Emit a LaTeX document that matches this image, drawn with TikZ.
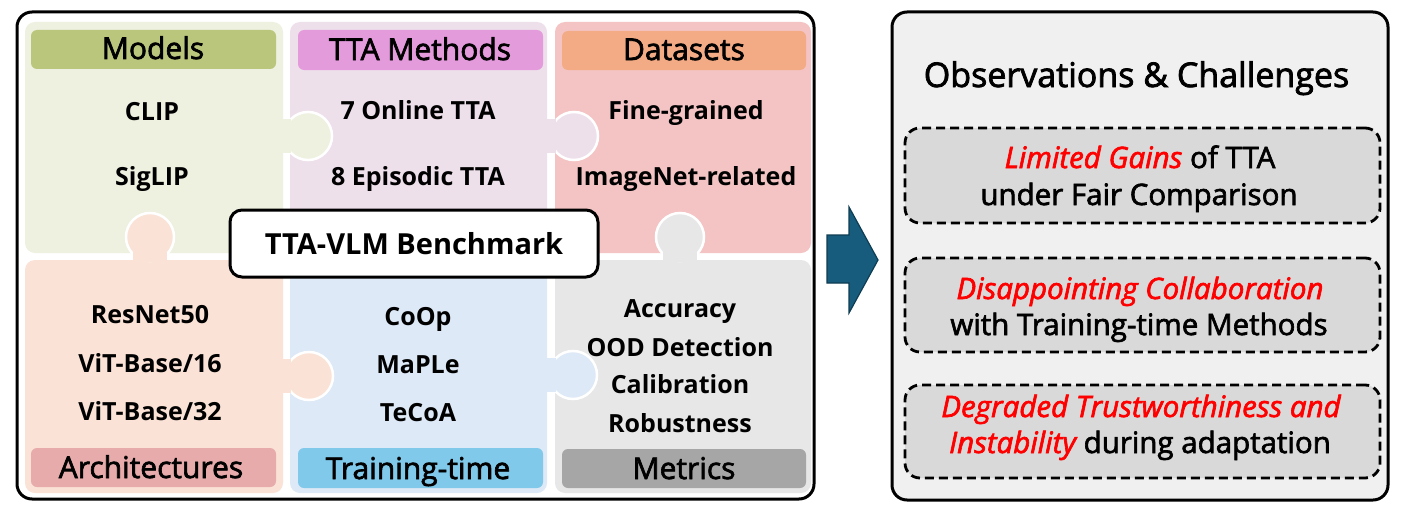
\documentclass[tikz,border=0pt]{standalone}
\usepackage{fontspec}
\setmainfont{Open Sans}
\newfontfamily\medfont[FakeBold=2.2]{Open Sans}
\definecolor{pModels}{HTML}{EEF0E0}
\definecolor{bModels}{HTML}{BAC67C}
\definecolor{pMeth}{HTML}{EEE0EB}
\definecolor{bMeth}{HTML}{E49BDC}
\definecolor{pData}{HTML}{F4C4C4}
\definecolor{bData}{HTML}{F2AB84}
\definecolor{pArch}{HTML}{FAE2D6}
\definecolor{bArch}{HTML}{E6ABAA}
\definecolor{pTrain}{HTML}{DDE9F6}
\definecolor{bTrain}{HTML}{80C9EA}
\definecolor{pMetr}{HTML}{E7E7E7}
\definecolor{bMetr}{HTML}{A6A6A6}
\definecolor{panel}{HTML}{F0F0F0}
\definecolor{obsbox}{HTML}{D9D9D9}
\definecolor{arrowfill}{HTML}{175C7C}
\definecolor{arrowline}{HTML}{0E3C52}
\definecolor{hl}{HTML}{FF0000}
\tikzset{
  piece/.style={rounded corners=10pt},
  knob/.style={draw=white, line width=2.5pt},
  bar/.style={rounded corners=6pt},
  title/.style={font=\medfont\fontsize{30}{34}\selectfont, text=black, anchor=base, inner sep=0pt},
  item/.style={font=\bfseries\fontsize{25}{29}\selectfont, text=black, anchor=base, inner sep=0pt},
  obs/.style={draw=black, line width=2.8pt, dash pattern=on 9pt off 5pt, fill=obsbox, rounded corners=15pt},
  obstext/.style={font=\medfont\fontsize{29.5}{37}\selectfont, text=black, anchor=base, inner sep=0pt},
}
\begin{document}
\begin{tikzpicture}[x=1pt,y=-1pt]
\useasboundingbox (0,0) rectangle (1402,511);
% outer left frame
\draw[line width=3pt, rounded corners=15pt, fill=white] (17,12) rectangle (814,499);
% pieces
\fill[pModels, piece] (25,22) rectangle (283,253);
\fill[pMeth, piece] (290,22) rectangle (547,253);
\fill[pData, piece] (555,22) rectangle (811,253);
\fill[pArch, piece] (25,260) rectangle (283,493);
\fill[pTrain, piece] (290,260) rectangle (547,493);
\fill[pMetr, piece] (555,260) rectangle (811,493);
% knobs
\filldraw[pModels, knob] (308,136) circle (24);
\fill[pModels] (280,119) rectangle (291,153);
\filldraw[pMeth, knob] (574,136) circle (24);
\fill[pMeth] (545,119) rectangle (556,153);
\filldraw[pArch, knob] (150,237) circle (24);
\fill[pArch] (133,251) rectangle (167,262);
\filldraw[pMetr, knob] (680,237) circle (24);
\fill[pMetr] (663,251) rectangle (697,262);
\filldraw[pArch, knob] (309,376) circle (24);
\fill[pArch] (280,359) rectangle (291,393);
\filldraw[pTrain, knob] (573,375) circle (24);
\fill[pTrain] (545,358) rectangle (556,392);
% title bars
\fill[bModels, bar] (31,30) rectangle (276,69);
\fill[bMeth, bar] (298,30) rectangle (543,70);
\fill[bData, bar] (562,31) rectangle (806,70);
\fill[bArch, bar] (31,448) rectangle (276,487);
\fill[bTrain, bar] (298,448) rectangle (543,488);
\fill[bMetr, bar] (562,449) rectangle (806,488);
\node[title] (tModels) at (153,59) {Models};
\node[title] (tMeth) at (420,60) {TTA Methods};
\node[title] (tData) at (684,60) {Datasets};
\node[title] (tArch) at (151,478) {Architectures};
\node[title] (tTrain) at (418,479) {Training-time};
\node[title] (tMetr) at (684,479) {Metrics};
% items
\node[item] (clip) at (152,120) {CLIP};
\node[item] (siglip) at (152,185) {SigLIP};
\node[item] (online) at (418,119) {7 Online TTA};
\node[item] (episodic) at (418,185) {8 Episodic TTA};
\node[item] (fine) at (686,119) {Fine-grained};
\node[item] (imnet) at (686,185) {ImageNet-related};
\node[item] (resnet) at (150,323) {ResNet50};
\node[item] (vit16) at (150,372) {ViT-Base/16};
\node[item] (vit32) at (150,420) {ViT-Base/32};
\node[item] (coop) at (418,325) {CoOp};
\node[item] (maple) at (418,373) {MaPLe};
\node[item] (tecoa) at (418,421) {TeCoA};
\node[item] (acc) at (680,317) {Accuracy};
\node[item] (ood) at (680,356) {OOD Detection};
\node[item] (calib) at (680,393) {Calibration};
\node[item] (robust) at (680,432) {Robustness};
% benchmark box
\node[draw=black, line width=3pt, fill=white, rounded corners=12pt, minimum width=368pt, minimum height=67pt, font=\bfseries\fontsize{29}{33}\selectfont] (bench) at (414,243.5) {TTA-VLM Benchmark};
% arrow
\filldraw[fill=arrowfill, draw=arrowline, line width=1.2pt] (827,235) -- (849,235) -- (849,207) -- (878,260) -- (849,313) -- (849,283) -- (827,283) -- cycle;
% right panel
\node[draw=black, line width=3pt, fill=panel, rounded corners=15pt, minimum width=496pt, minimum height=488pt, inner sep=0pt] (panel) at (1140,256) {};
\node[font=\medfont\fontsize{34}{38}\selectfont, anchor=base, inner sep=0pt] (obstitle) at (1136.5,87) {Observations \& Challenges};
\node[obs, minimum width=475pt, minimum height=95pt, inner sep=0pt] (obs1) at (1142.5,175.5) {};
\node[obs, minimum width=475pt, minimum height=94pt, inner sep=0pt] (obs2) at (1142.5,305) {};
\node[obs, minimum width=475pt, minimum height=93pt, inner sep=0pt] (obs3) at (1142.5,431.5) {};
\node[obstext] (o1a) at (1140,168) {{\color{hl}\itshape Limited Gains} of TTA};
\node[obstext] (o1b) at (1139,205) {under Fair Comparison};
\node[obstext] (o2a) at (1140,299) {{\color{hl}\itshape Disappointing Collaboration}};
\node[obstext] (o2b) at (1139,335) {with Training-time Methods};
\node[obstext] (o3a) at (1141,417) {{\color{hl}\itshape Degraded Trustworthiness and}};
\node[obstext] (o3b) at (1140,453) {{\color{hl}\itshape Instability} during adaptation};
\end{tikzpicture}
\end{document}
